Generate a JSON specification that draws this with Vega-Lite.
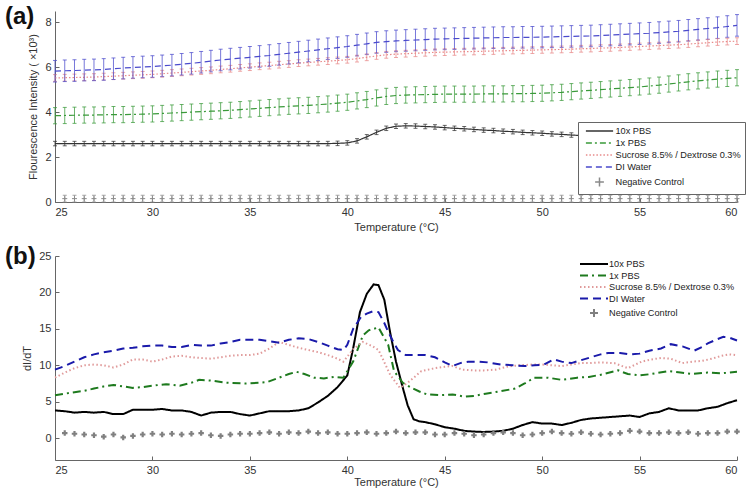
{
"$schema": "https://vega.github.io/schema/vega-lite/v6.json",
"background": "white",
"padding": {"left": 5, "top": 5, "right": 5, "bottom": 5},
"config": {
  "view": {"stroke": null},
  "font": "Liberation Sans",
  "axis": {"labelFont": "Liberation Sans", "titleFont": "Liberation Sans", "labelFontSize": 11, "titleFontSize": 11, "titleFontWeight": "normal", "labelColor": "#333", "titleColor": "#333", "domainColor": "#666", "tickColor": "#666", "grid": false, "tickSize": -4, "labelPadding": 8},
  "legend": {"labelFont": "Liberation Sans", "labelFontSize": 9.2, "labelColor": "#222"}
},
"datasets": {
"fa": [
{"s":"A","t":25,"v":2.6,"e":0.1},{"s":"A","t":25.5,"v":2.6,"e":0.1},{"s":"A","t":26,"v":2.6,"e":0.1},{"s":"A","t":26.5,"v":2.6,"e":0.1},{"s":"A","t":27,"v":2.6,"e":0.1},{"s":"A","t":27.5,"v":2.6,"e":0.1},{"s":"A","t":28,"v":2.6,"e":0.1},{"s":"A","t":28.5,"v":2.6,"e":0.1},{"s":"A","t":29,"v":2.6,"e":0.1},{"s":"A","t":29.5,"v":2.6,"e":0.1},{"s":"A","t":30,"v":2.6,"e":0.1},{"s":"A","t":30.5,"v":2.6,"e":0.1},{"s":"A","t":31,"v":2.6,"e":0.1},{"s":"A","t":31.5,"v":2.6,"e":0.1},{"s":"A","t":32,"v":2.6,"e":0.1},{"s":"A","t":32.5,"v":2.6,"e":0.1},{"s":"A","t":33,"v":2.6,"e":0.1},{"s":"A","t":33.5,"v":2.6,"e":0.1},{"s":"A","t":34,"v":2.6,"e":0.1},{"s":"A","t":34.5,"v":2.6,"e":0.1},{"s":"A","t":35,"v":2.6,"e":0.1},{"s":"A","t":35.5,"v":2.6,"e":0.1},{"s":"A","t":36,"v":2.6,"e":0.1},{"s":"A","t":36.5,"v":2.6,"e":0.1},{"s":"A","t":37,"v":2.6,"e":0.1},{"s":"A","t":37.5,"v":2.6,"e":0.1},{"s":"A","t":38,"v":2.6,"e":0.1},{"s":"A","t":38.5,"v":2.6,"e":0.1},{"s":"A","t":39,"v":2.6,"e":0.1},{"s":"A","t":39.5,"v":2.61,"e":0.1},{"s":"A","t":40,"v":2.63,"e":0.1},{"s":"A","t":40.5,"v":2.72,"e":0.1},{"s":"A","t":41,"v":2.9,"e":0.1},{"s":"A","t":41.5,"v":3.1,"e":0.1},{"s":"A","t":42,"v":3.28,"e":0.1},{"s":"A","t":42.5,"v":3.37,"e":0.1},{"s":"A","t":43,"v":3.39,"e":0.1},{"s":"A","t":43.5,"v":3.38,"e":0.1},{"s":"A","t":44,"v":3.36,"e":0.1},{"s":"A","t":44.5,"v":3.34,"e":0.1},{"s":"A","t":45,"v":3.31,"e":0.1},{"s":"A","t":45.5,"v":3.28,"e":0.1},{"s":"A","t":46,"v":3.26,"e":0.1},{"s":"A","t":46.5,"v":3.23,"e":0.1},{"s":"A","t":47,"v":3.2,"e":0.1},{"s":"A","t":47.5,"v":3.18,"e":0.1},{"s":"A","t":48,"v":3.15,"e":0.1},{"s":"A","t":48.5,"v":3.13,"e":0.1},{"s":"A","t":49,"v":3.1,"e":0.1},{"s":"A","t":49.5,"v":3.08,"e":0.1},{"s":"A","t":50,"v":3.06,"e":0.1},{"s":"A","t":50.5,"v":3.03,"e":0.1},{"s":"A","t":51,"v":3.01,"e":0.1},{"s":"A","t":51.5,"v":2.98,"e":0.1},{"s":"A","t":52,"v":2.96,"e":0.1},{"s":"A","t":52.5,"v":2.94,"e":0.1},{"s":"A","t":53,"v":2.92,"e":0.1},{"s":"A","t":53.5,"v":2.91,"e":0.1},{"s":"A","t":54,"v":2.9,"e":0.1},{"s":"A","t":54.5,"v":2.89,"e":0.1},{"s":"A","t":55,"v":2.88,"e":0.1},{"s":"A","t":55.5,"v":2.87,"e":0.1},{"s":"A","t":56,"v":2.86,"e":0.1},{"s":"A","t":56.5,"v":2.85,"e":0.1},{"s":"A","t":57,"v":2.85,"e":0.1},{"s":"A","t":57.5,"v":2.84,"e":0.1},{"s":"A","t":58,"v":2.83,"e":0.1},{"s":"A","t":58.5,"v":2.83,"e":0.1},{"s":"A","t":59,"v":2.82,"e":0.1},{"s":"A","t":59.5,"v":2.82,"e":0.1},{"s":"A","t":60,"v":2.81,"e":0.1},
{"s":"B","t":25,"v":3.84,"e":0.36},{"s":"B","t":25.5,"v":3.85,"e":0.36},{"s":"B","t":26,"v":3.86,"e":0.36},{"s":"B","t":26.5,"v":3.87,"e":0.36},{"s":"B","t":27,"v":3.87,"e":0.36},{"s":"B","t":27.5,"v":3.88,"e":0.36},{"s":"B","t":28,"v":3.89,"e":0.36},{"s":"B","t":28.5,"v":3.89,"e":0.36},{"s":"B","t":29,"v":3.9,"e":0.36},{"s":"B","t":29.5,"v":3.91,"e":0.36},{"s":"B","t":30,"v":3.92,"e":0.36},{"s":"B","t":30.5,"v":3.94,"e":0.36},{"s":"B","t":31,"v":3.96,"e":0.36},{"s":"B","t":31.5,"v":3.98,"e":0.36},{"s":"B","t":32,"v":4.0,"e":0.36},{"s":"B","t":32.5,"v":4.02,"e":0.36},{"s":"B","t":33,"v":4.04,"e":0.36},{"s":"B","t":33.5,"v":4.06,"e":0.36},{"s":"B","t":34,"v":4.08,"e":0.36},{"s":"B","t":34.5,"v":4.11,"e":0.36},{"s":"B","t":35,"v":4.14,"e":0.36},{"s":"B","t":35.5,"v":4.17,"e":0.36},{"s":"B","t":36,"v":4.2,"e":0.36},{"s":"B","t":36.5,"v":4.23,"e":0.36},{"s":"B","t":37,"v":4.26,"e":0.36},{"s":"B","t":37.5,"v":4.28,"e":0.36},{"s":"B","t":38,"v":4.3,"e":0.36},{"s":"B","t":38.5,"v":4.33,"e":0.36},{"s":"B","t":39,"v":4.36,"e":0.36},{"s":"B","t":39.5,"v":4.4,"e":0.36},{"s":"B","t":40,"v":4.44,"e":0.36},{"s":"B","t":40.5,"v":4.5,"e":0.36},{"s":"B","t":41,"v":4.56,"e":0.36},{"s":"B","t":41.5,"v":4.63,"e":0.36},{"s":"B","t":42,"v":4.7,"e":0.36},{"s":"B","t":42.5,"v":4.74,"e":0.36},{"s":"B","t":43,"v":4.76,"e":0.36},{"s":"B","t":43.5,"v":4.77,"e":0.36},{"s":"B","t":44,"v":4.78,"e":0.36},{"s":"B","t":44.5,"v":4.79,"e":0.36},{"s":"B","t":45,"v":4.8,"e":0.36},{"s":"B","t":45.5,"v":4.8,"e":0.36},{"s":"B","t":46,"v":4.8,"e":0.36},{"s":"B","t":46.5,"v":4.8,"e":0.36},{"s":"B","t":47,"v":4.81,"e":0.36},{"s":"B","t":47.5,"v":4.81,"e":0.36},{"s":"B","t":48,"v":4.81,"e":0.36},{"s":"B","t":48.5,"v":4.82,"e":0.36},{"s":"B","t":49,"v":4.82,"e":0.36},{"s":"B","t":49.5,"v":4.83,"e":0.36},{"s":"B","t":50,"v":4.84,"e":0.36},{"s":"B","t":50.5,"v":4.86,"e":0.36},{"s":"B","t":51,"v":4.88,"e":0.36},{"s":"B","t":51.5,"v":4.91,"e":0.36},{"s":"B","t":52,"v":4.94,"e":0.36},{"s":"B","t":52.5,"v":4.97,"e":0.36},{"s":"B","t":53,"v":5.0,"e":0.36},{"s":"B","t":53.5,"v":5.03,"e":0.36},{"s":"B","t":54,"v":5.06,"e":0.36},{"s":"B","t":54.5,"v":5.09,"e":0.36},{"s":"B","t":55,"v":5.12,"e":0.36},{"s":"B","t":55.5,"v":5.16,"e":0.36},{"s":"B","t":56,"v":5.2,"e":0.36},{"s":"B","t":56.5,"v":5.25,"e":0.36},{"s":"B","t":57,"v":5.3,"e":0.36},{"s":"B","t":57.5,"v":5.35,"e":0.36},{"s":"B","t":58,"v":5.39,"e":0.36},{"s":"B","t":58.5,"v":5.43,"e":0.36},{"s":"B","t":59,"v":5.47,"e":0.36},{"s":"B","t":59.5,"v":5.5,"e":0.36},{"s":"B","t":60,"v":5.53,"e":0.36},
{"s":"C","t":25,"v":5.52,"e":0.15},{"s":"C","t":25.5,"v":5.53,"e":0.15},{"s":"C","t":26,"v":5.54,"e":0.15},{"s":"C","t":26.5,"v":5.55,"e":0.15},{"s":"C","t":27,"v":5.56,"e":0.15},{"s":"C","t":27.5,"v":5.58,"e":0.15},{"s":"C","t":28,"v":5.6,"e":0.15},{"s":"C","t":28.5,"v":5.62,"e":0.15},{"s":"C","t":29,"v":5.64,"e":0.15},{"s":"C","t":29.5,"v":5.66,"e":0.15},{"s":"C","t":30,"v":5.68,"e":0.15},{"s":"C","t":30.5,"v":5.71,"e":0.15},{"s":"C","t":31,"v":5.74,"e":0.15},{"s":"C","t":31.5,"v":5.77,"e":0.15},{"s":"C","t":32,"v":5.8,"e":0.15},{"s":"C","t":32.5,"v":5.83,"e":0.15},{"s":"C","t":33,"v":5.86,"e":0.15},{"s":"C","t":33.5,"v":5.9,"e":0.15},{"s":"C","t":34,"v":5.93,"e":0.15},{"s":"C","t":34.5,"v":5.97,"e":0.15},{"s":"C","t":35,"v":6.0,"e":0.15},{"s":"C","t":35.5,"v":6.04,"e":0.15},{"s":"C","t":36,"v":6.07,"e":0.15},{"s":"C","t":36.5,"v":6.11,"e":0.15},{"s":"C","t":37,"v":6.14,"e":0.15},{"s":"C","t":37.5,"v":6.18,"e":0.15},{"s":"C","t":38,"v":6.21,"e":0.15},{"s":"C","t":38.5,"v":6.24,"e":0.15},{"s":"C","t":39,"v":6.27,"e":0.15},{"s":"C","t":39.5,"v":6.3,"e":0.15},{"s":"C","t":40,"v":6.33,"e":0.15},{"s":"C","t":40.5,"v":6.38,"e":0.15},{"s":"C","t":41,"v":6.44,"e":0.15},{"s":"C","t":41.5,"v":6.5,"e":0.15},{"s":"C","t":42,"v":6.55,"e":0.15},{"s":"C","t":42.5,"v":6.58,"e":0.15},{"s":"C","t":43,"v":6.6,"e":0.15},{"s":"C","t":43.5,"v":6.62,"e":0.15},{"s":"C","t":44,"v":6.64,"e":0.15},{"s":"C","t":44.5,"v":6.66,"e":0.15},{"s":"C","t":45,"v":6.67,"e":0.15},{"s":"C","t":45.5,"v":6.68,"e":0.15},{"s":"C","t":46,"v":6.69,"e":0.15},{"s":"C","t":46.5,"v":6.7,"e":0.15},{"s":"C","t":47,"v":6.71,"e":0.15},{"s":"C","t":47.5,"v":6.72,"e":0.15},{"s":"C","t":48,"v":6.73,"e":0.15},{"s":"C","t":48.5,"v":6.74,"e":0.15},{"s":"C","t":49,"v":6.75,"e":0.15},{"s":"C","t":49.5,"v":6.76,"e":0.15},{"s":"C","t":50,"v":6.77,"e":0.15},{"s":"C","t":50.5,"v":6.78,"e":0.15},{"s":"C","t":51,"v":6.79,"e":0.15},{"s":"C","t":51.5,"v":6.8,"e":0.15},{"s":"C","t":52,"v":6.82,"e":0.15},{"s":"C","t":52.5,"v":6.83,"e":0.15},{"s":"C","t":53,"v":6.85,"e":0.15},{"s":"C","t":53.5,"v":6.86,"e":0.15},{"s":"C","t":54,"v":6.88,"e":0.15},{"s":"C","t":54.5,"v":6.9,"e":0.15},{"s":"C","t":55,"v":6.92,"e":0.15},{"s":"C","t":55.5,"v":6.94,"e":0.15},{"s":"C","t":56,"v":6.96,"e":0.15},{"s":"C","t":56.5,"v":6.98,"e":0.15},{"s":"C","t":57,"v":7.0,"e":0.15},{"s":"C","t":57.5,"v":7.03,"e":0.15},{"s":"C","t":58,"v":7.06,"e":0.15},{"s":"C","t":58.5,"v":7.09,"e":0.15},{"s":"C","t":59,"v":7.12,"e":0.15},{"s":"C","t":59.5,"v":7.14,"e":0.15},{"s":"C","t":60,"v":7.16,"e":0.15},
{"s":"D","t":25,"v":5.82,"e":0.48},{"s":"D","t":25.5,"v":5.84,"e":0.48},{"s":"D","t":26,"v":5.85,"e":0.48},{"s":"D","t":26.5,"v":5.87,"e":0.48},{"s":"D","t":27,"v":5.88,"e":0.48},{"s":"D","t":27.5,"v":5.9,"e":0.48},{"s":"D","t":28,"v":5.93,"e":0.48},{"s":"D","t":28.5,"v":5.96,"e":0.48},{"s":"D","t":29,"v":5.99,"e":0.48},{"s":"D","t":29.5,"v":6.01,"e":0.48},{"s":"D","t":30,"v":6.03,"e":0.48},{"s":"D","t":30.5,"v":6.06,"e":0.48},{"s":"D","t":31,"v":6.09,"e":0.48},{"s":"D","t":31.5,"v":6.13,"e":0.48},{"s":"D","t":32,"v":6.17,"e":0.48},{"s":"D","t":32.5,"v":6.22,"e":0.48},{"s":"D","t":33,"v":6.27,"e":0.48},{"s":"D","t":33.5,"v":6.32,"e":0.48},{"s":"D","t":34,"v":6.36,"e":0.48},{"s":"D","t":34.5,"v":6.4,"e":0.48},{"s":"D","t":35,"v":6.44,"e":0.48},{"s":"D","t":35.5,"v":6.48,"e":0.48},{"s":"D","t":36,"v":6.52,"e":0.48},{"s":"D","t":36.5,"v":6.57,"e":0.48},{"s":"D","t":37,"v":6.62,"e":0.48},{"s":"D","t":37.5,"v":6.67,"e":0.48},{"s":"D","t":38,"v":6.72,"e":0.48},{"s":"D","t":38.5,"v":6.77,"e":0.48},{"s":"D","t":39,"v":6.82,"e":0.48},{"s":"D","t":39.5,"v":6.87,"e":0.48},{"s":"D","t":40,"v":6.92,"e":0.48},{"s":"D","t":40.5,"v":6.98,"e":0.48},{"s":"D","t":41,"v":7.04,"e":0.48},{"s":"D","t":41.5,"v":7.1,"e":0.48},{"s":"D","t":42,"v":7.14,"e":0.48},{"s":"D","t":42.5,"v":7.17,"e":0.48},{"s":"D","t":43,"v":7.19,"e":0.48},{"s":"D","t":43.5,"v":7.21,"e":0.48},{"s":"D","t":44,"v":7.23,"e":0.48},{"s":"D","t":44.5,"v":7.25,"e":0.48},{"s":"D","t":45,"v":7.26,"e":0.48},{"s":"D","t":45.5,"v":7.27,"e":0.48},{"s":"D","t":46,"v":7.28,"e":0.48},{"s":"D","t":46.5,"v":7.29,"e":0.48},{"s":"D","t":47,"v":7.3,"e":0.48},{"s":"D","t":47.5,"v":7.31,"e":0.48},{"s":"D","t":48,"v":7.32,"e":0.48},{"s":"D","t":48.5,"v":7.32,"e":0.48},{"s":"D","t":49,"v":7.33,"e":0.48},{"s":"D","t":49.5,"v":7.33,"e":0.48},{"s":"D","t":50,"v":7.34,"e":0.48},{"s":"D","t":50.5,"v":7.35,"e":0.48},{"s":"D","t":51,"v":7.36,"e":0.48},{"s":"D","t":51.5,"v":7.37,"e":0.48},{"s":"D","t":52,"v":7.38,"e":0.48},{"s":"D","t":52.5,"v":7.39,"e":0.48},{"s":"D","t":53,"v":7.41,"e":0.48},{"s":"D","t":53.5,"v":7.43,"e":0.48},{"s":"D","t":54,"v":7.45,"e":0.48},{"s":"D","t":54.5,"v":7.47,"e":0.48},{"s":"D","t":55,"v":7.49,"e":0.48},{"s":"D","t":55.5,"v":7.51,"e":0.48},{"s":"D","t":56,"v":7.54,"e":0.48},{"s":"D","t":56.5,"v":7.57,"e":0.48},{"s":"D","t":57,"v":7.6,"e":0.48},{"s":"D","t":57.5,"v":7.64,"e":0.48},{"s":"D","t":58,"v":7.68,"e":0.48},{"s":"D","t":58.5,"v":7.72,"e":0.48},{"s":"D","t":59,"v":7.76,"e":0.48},{"s":"D","t":59.5,"v":7.81,"e":0.48},{"s":"D","t":60,"v":7.86,"e":0.48},
{"s":"E","t":25.5,"v":0.15,"e":0.15},{"s":"E","t":26,"v":0.15,"e":0.15},{"s":"E","t":26.5,"v":0.15,"e":0.15},{"s":"E","t":27,"v":0.15,"e":0.15},{"s":"E","t":27.5,"v":0.15,"e":0.15},{"s":"E","t":28,"v":0.15,"e":0.15},{"s":"E","t":28.5,"v":0.15,"e":0.15},{"s":"E","t":29,"v":0.15,"e":0.15},{"s":"E","t":29.5,"v":0.15,"e":0.15},{"s":"E","t":30,"v":0.15,"e":0.15},{"s":"E","t":30.5,"v":0.15,"e":0.15},{"s":"E","t":31,"v":0.15,"e":0.15},{"s":"E","t":31.5,"v":0.15,"e":0.15},{"s":"E","t":32,"v":0.15,"e":0.15},{"s":"E","t":32.5,"v":0.15,"e":0.15},{"s":"E","t":33,"v":0.15,"e":0.15},{"s":"E","t":33.5,"v":0.15,"e":0.15},{"s":"E","t":34,"v":0.15,"e":0.15},{"s":"E","t":34.5,"v":0.15,"e":0.15},{"s":"E","t":35,"v":0.15,"e":0.15},{"s":"E","t":35.5,"v":0.15,"e":0.15},{"s":"E","t":36,"v":0.15,"e":0.15},{"s":"E","t":36.5,"v":0.15,"e":0.15},{"s":"E","t":37,"v":0.15,"e":0.15},{"s":"E","t":37.5,"v":0.15,"e":0.15},{"s":"E","t":38,"v":0.15,"e":0.15},{"s":"E","t":38.5,"v":0.15,"e":0.15},{"s":"E","t":39,"v":0.15,"e":0.15},{"s":"E","t":39.5,"v":0.15,"e":0.15},{"s":"E","t":40,"v":0.15,"e":0.15},{"s":"E","t":40.5,"v":0.15,"e":0.15},{"s":"E","t":41,"v":0.15,"e":0.15},{"s":"E","t":41.5,"v":0.15,"e":0.15},{"s":"E","t":42,"v":0.15,"e":0.15},{"s":"E","t":42.5,"v":0.15,"e":0.15},{"s":"E","t":43,"v":0.15,"e":0.15},{"s":"E","t":43.5,"v":0.15,"e":0.15},{"s":"E","t":44,"v":0.15,"e":0.15},{"s":"E","t":44.5,"v":0.15,"e":0.15},{"s":"E","t":45,"v":0.15,"e":0.15},{"s":"E","t":45.5,"v":0.15,"e":0.15},{"s":"E","t":46,"v":0.15,"e":0.15},{"s":"E","t":46.5,"v":0.15,"e":0.15},{"s":"E","t":47,"v":0.15,"e":0.15},{"s":"E","t":47.5,"v":0.15,"e":0.15},{"s":"E","t":48,"v":0.15,"e":0.15},{"s":"E","t":48.5,"v":0.15,"e":0.15},{"s":"E","t":49,"v":0.15,"e":0.15},{"s":"E","t":49.5,"v":0.15,"e":0.15},{"s":"E","t":50,"v":0.15,"e":0.15},{"s":"E","t":50.5,"v":0.15,"e":0.15},{"s":"E","t":51,"v":0.15,"e":0.15},{"s":"E","t":51.5,"v":0.15,"e":0.15},{"s":"E","t":52,"v":0.15,"e":0.15},{"s":"E","t":52.5,"v":0.15,"e":0.15},{"s":"E","t":53,"v":0.15,"e":0.15},{"s":"E","t":53.5,"v":0.15,"e":0.15},{"s":"E","t":54,"v":0.15,"e":0.15},{"s":"E","t":54.5,"v":0.15,"e":0.15},{"s":"E","t":55,"v":0.15,"e":0.15},{"s":"E","t":55.5,"v":0.15,"e":0.15},{"s":"E","t":56,"v":0.15,"e":0.15},{"s":"E","t":56.5,"v":0.15,"e":0.15},{"s":"E","t":57,"v":0.15,"e":0.15},{"s":"E","t":57.5,"v":0.15,"e":0.15},{"s":"E","t":58,"v":0.15,"e":0.15},{"s":"E","t":58.5,"v":0.15,"e":0.15},{"s":"E","t":59,"v":0.15,"e":0.15},{"s":"E","t":59.5,"v":0.15,"e":0.15},{"s":"E","t":60,"v":0.15,"e":0.15}
],
"fb": [
{"s":"A","t":25,"v":3.8},{"s":"A","t":25.5,"v":3.7},{"s":"A","t":26,"v":3.5},{"s":"A","t":26.5,"v":3.6},{"s":"A","t":27,"v":3.5},{"s":"A","t":27.5,"v":3.6},{"s":"A","t":28,"v":3.3},{"s":"A","t":28.5,"v":3.3},{"s":"A","t":29,"v":3.9},{"s":"A","t":29.5,"v":3.9},{"s":"A","t":30,"v":3.9},{"s":"A","t":30.5,"v":4.0},{"s":"A","t":31,"v":3.8},{"s":"A","t":31.5,"v":3.8},{"s":"A","t":32,"v":3.6},{"s":"A","t":32.5,"v":3.1},{"s":"A","t":33,"v":3.5},{"s":"A","t":33.5,"v":3.6},{"s":"A","t":34,"v":3.6},{"s":"A","t":34.5,"v":3.3},{"s":"A","t":35,"v":3.1},{"s":"A","t":35.5,"v":3.4},{"s":"A","t":36,"v":3.7},{"s":"A","t":36.5,"v":3.7},{"s":"A","t":37,"v":3.7},{"s":"A","t":37.5,"v":3.8},{"s":"A","t":38,"v":4.1},{"s":"A","t":38.5,"v":4.9},{"s":"A","t":39,"v":5.8},{"s":"A","t":39.5,"v":7.0},{"s":"A","t":40,"v":8.6},{"s":"A","t":40.3,"v":12.3},{"s":"A","t":40.65,"v":17.3},{"s":"A","t":41,"v":19.8},{"s":"A","t":41.35,"v":21.1},{"s":"A","t":41.6,"v":21.0},{"s":"A","t":41.9,"v":19.0},{"s":"A","t":42.2,"v":14.5},{"s":"A","t":42.5,"v":10.5},{"s":"A","t":42.85,"v":6.9},{"s":"A","t":43.1,"v":4.5},{"s":"A","t":43.4,"v":2.6},{"s":"A","t":43.7,"v":2.3},{"s":"A","t":44,"v":2.2},{"s":"A","t":44.5,"v":1.9},{"s":"A","t":45,"v":1.5},{"s":"A","t":45.5,"v":1.3},{"s":"A","t":46,"v":1.0},{"s":"A","t":46.5,"v":0.9},{"s":"A","t":47,"v":0.85},{"s":"A","t":47.5,"v":0.9},{"s":"A","t":48,"v":1.0},{"s":"A","t":48.5,"v":1.3},{"s":"A","t":49,"v":1.8},{"s":"A","t":49.5,"v":2.2},{"s":"A","t":50,"v":2.0},{"s":"A","t":50.5,"v":2.0},{"s":"A","t":51,"v":1.8},{"s":"A","t":51.5,"v":2.1},{"s":"A","t":52,"v":2.5},{"s":"A","t":52.5,"v":2.7},{"s":"A","t":53,"v":2.8},{"s":"A","t":53.5,"v":2.9},{"s":"A","t":54,"v":3.0},{"s":"A","t":54.5,"v":3.1},{"s":"A","t":55,"v":2.9},{"s":"A","t":55.5,"v":3.4},{"s":"A","t":56,"v":3.6},{"s":"A","t":56.5,"v":4.1},{"s":"A","t":57,"v":3.8},{"s":"A","t":57.5,"v":3.8},{"s":"A","t":58,"v":3.8},{"s":"A","t":58.5,"v":4.1},{"s":"A","t":59,"v":4.3},{"s":"A","t":59.5,"v":4.8},{"s":"A","t":60,"v":5.2},
{"s":"B","t":25,"v":5.9},{"s":"B","t":25.5,"v":6.1},{"s":"B","t":26,"v":6.3},{"s":"B","t":26.5,"v":6.5},{"s":"B","t":27,"v":6.8},{"s":"B","t":27.5,"v":7.1},{"s":"B","t":28,"v":7.3},{"s":"B","t":28.5,"v":7.1},{"s":"B","t":29,"v":6.9},{"s":"B","t":29.5,"v":7.0},{"s":"B","t":30,"v":7.2},{"s":"B","t":30.7,"v":7.4},{"s":"B","t":31.4,"v":7.2},{"s":"B","t":32,"v":7.6},{"s":"B","t":32.4,"v":8.0},{"s":"B","t":33,"v":7.9},{"s":"B","t":33.8,"v":7.6},{"s":"B","t":34.8,"v":7.5},{"s":"B","t":35.5,"v":7.6},{"s":"B","t":35.9,"v":7.7},{"s":"B","t":36.5,"v":8.3},{"s":"B","t":37,"v":8.8},{"s":"B","t":37.4,"v":9.1},{"s":"B","t":37.8,"v":8.8},{"s":"B","t":38.3,"v":8.3},{"s":"B","t":38.8,"v":8.2},{"s":"B","t":39.3,"v":8.4},{"s":"B","t":39.8,"v":8.3},{"s":"B","t":40.3,"v":10.5},{"s":"B","t":40.8,"v":14.1},{"s":"B","t":41.1,"v":14.8},{"s":"B","t":41.6,"v":15.2},{"s":"B","t":42.1,"v":12.8},{"s":"B","t":42.4,"v":9.2},{"s":"B","t":42.85,"v":7.6},{"s":"B","t":43.3,"v":6.9},{"s":"B","t":43.7,"v":6.4},{"s":"B","t":44.1,"v":6.0},{"s":"B","t":44.7,"v":5.9},{"s":"B","t":45.4,"v":6.0},{"s":"B","t":46,"v":5.7},{"s":"B","t":46.5,"v":5.8},{"s":"B","t":47.1,"v":6.1},{"s":"B","t":47.8,"v":6.4},{"s":"B","t":48.6,"v":6.8},{"s":"B","t":49.1,"v":7.5},{"s":"B","t":49.6,"v":8.3},{"s":"B","t":50.3,"v":8.3},{"s":"B","t":51,"v":8.0},{"s":"B","t":51.8,"v":8.3},{"s":"B","t":52.4,"v":8.4},{"s":"B","t":53,"v":8.7},{"s":"B","t":53.9,"v":9.3},{"s":"B","t":54.4,"v":8.8},{"s":"B","t":55,"v":8.6},{"s":"B","t":55.6,"v":8.8},{"s":"B","t":56.5,"v":9.2},{"s":"B","t":57.1,"v":9.0},{"s":"B","t":57.7,"v":8.8},{"s":"B","t":58.5,"v":9.0},{"s":"B","t":59.2,"v":8.9},{"s":"B","t":60,"v":9.1},
{"s":"C","t":25,"v":8.3},{"s":"C","t":25.5,"v":9.0},{"s":"C","t":26,"v":9.6},{"s":"C","t":26.5,"v":10.0},{"s":"C","t":27,"v":10.1},{"s":"C","t":27.5,"v":10.0},{"s":"C","t":28,"v":9.7},{"s":"C","t":28.5,"v":10.1},{"s":"C","t":29,"v":10.8},{"s":"C","t":29.5,"v":10.8},{"s":"C","t":30,"v":10.5},{"s":"C","t":30.5,"v":10.8},{"s":"C","t":31,"v":11.2},{"s":"C","t":31.5,"v":11.3},{"s":"C","t":32,"v":11.1},{"s":"C","t":32.5,"v":11.0},{"s":"C","t":33,"v":10.9},{"s":"C","t":33.5,"v":11.1},{"s":"C","t":34,"v":11.3},{"s":"C","t":34.5,"v":11.4},{"s":"C","t":35,"v":11.4},{"s":"C","t":35.5,"v":11.6},{"s":"C","t":36,"v":12.3},{"s":"C","t":36.5,"v":13.2},{"s":"C","t":37,"v":12.8},{"s":"C","t":37.5,"v":12.4},{"s":"C","t":38,"v":12.1},{"s":"C","t":38.5,"v":11.8},{"s":"C","t":39,"v":11.4},{"s":"C","t":39.5,"v":10.9},{"s":"C","t":39.8,"v":10.5},{"s":"C","t":40.3,"v":12.2},{"s":"C","t":40.8,"v":13.2},{"s":"C","t":41.3,"v":12.6},{"s":"C","t":41.6,"v":12.1},{"s":"C","t":41.8,"v":11.0},{"s":"C","t":42.2,"v":8.7},{"s":"C","t":42.7,"v":6.9},{"s":"C","t":43.1,"v":7.6},{"s":"C","t":43.5,"v":8.5},{"s":"C","t":43.8,"v":9.2},{"s":"C","t":44.5,"v":9.6},{"s":"C","t":45,"v":9.8},{"s":"C","t":45.4,"v":9.9},{"s":"C","t":45.9,"v":9.4},{"s":"C","t":46.5,"v":9.3},{"s":"C","t":47,"v":9.3},{"s":"C","t":47.6,"v":9.4},{"s":"C","t":48.2,"v":9.8},{"s":"C","t":48.8,"v":10.0},{"s":"C","t":49.5,"v":10.1},{"s":"C","t":50,"v":10.1},{"s":"C","t":50.5,"v":10.0},{"s":"C","t":51,"v":9.9},{"s":"C","t":51.5,"v":10.1},{"s":"C","t":52,"v":10.3},{"s":"C","t":52.4,"v":10.3},{"s":"C","t":53,"v":10.4},{"s":"C","t":53.7,"v":10.3},{"s":"C","t":54.4,"v":9.6},{"s":"C","t":55.1,"v":10.5},{"s":"C","t":55.6,"v":10.8},{"s":"C","t":56.1,"v":11.0},{"s":"C","t":56.6,"v":10.9},{"s":"C","t":57.2,"v":10.3},{"s":"C","t":57.7,"v":10.5},{"s":"C","t":58.2,"v":10.6},{"s":"C","t":58.7,"v":10.9},{"s":"C","t":59.2,"v":11.3},{"s":"C","t":59.6,"v":11.5},{"s":"C","t":60,"v":11.4},
{"s":"D","t":25,"v":9.4},{"s":"D","t":25.5,"v":9.9},{"s":"D","t":26,"v":10.5},{"s":"D","t":26.5,"v":11.1},{"s":"D","t":27,"v":11.5},{"s":"D","t":27.5,"v":11.8},{"s":"D","t":28,"v":12.0},{"s":"D","t":28.5,"v":12.3},{"s":"D","t":29,"v":12.4},{"s":"D","t":29.5,"v":12.6},{"s":"D","t":30,"v":12.7},{"s":"D","t":30.5,"v":12.7},{"s":"D","t":31,"v":12.5},{"s":"D","t":31.5,"v":12.5},{"s":"D","t":32,"v":12.8},{"s":"D","t":32.5,"v":12.7},{"s":"D","t":33,"v":12.7},{"s":"D","t":33.5,"v":13.0},{"s":"D","t":34,"v":13.2},{"s":"D","t":34.5,"v":13.5},{"s":"D","t":35,"v":13.5},{"s":"D","t":35.5,"v":13.5},{"s":"D","t":36,"v":13.3},{"s":"D","t":36.5,"v":13.1},{"s":"D","t":37,"v":13.5},{"s":"D","t":37.5,"v":13.7},{"s":"D","t":38,"v":13.6},{"s":"D","t":38.5,"v":13.2},{"s":"D","t":39,"v":12.7},{"s":"D","t":39.5,"v":12.2},{"s":"D","t":39.8,"v":12.1},{"s":"D","t":40,"v":12.8},{"s":"D","t":40.3,"v":15.0},{"s":"D","t":40.7,"v":16.6},{"s":"D","t":41,"v":17.1},{"s":"D","t":41.3,"v":17.4},{"s":"D","t":41.6,"v":17.3},{"s":"D","t":41.9,"v":15.8},{"s":"D","t":42.1,"v":14.6},{"s":"D","t":42.4,"v":13.0},{"s":"D","t":42.6,"v":12.1},{"s":"D","t":43,"v":11.4},{"s":"D","t":43.5,"v":11.4},{"s":"D","t":44,"v":11.4},{"s":"D","t":44.5,"v":11.1},{"s":"D","t":45,"v":10.4},{"s":"D","t":45.4,"v":9.9},{"s":"D","t":45.8,"v":10.3},{"s":"D","t":46.2,"v":10.5},{"s":"D","t":46.7,"v":10.5},{"s":"D","t":47.2,"v":10.4},{"s":"D","t":47.9,"v":10.1},{"s":"D","t":48.5,"v":10.0},{"s":"D","t":49.1,"v":9.9},{"s":"D","t":49.6,"v":10.0},{"s":"D","t":50.1,"v":10.1},{"s":"D","t":50.6,"v":10.8},{"s":"D","t":51,"v":10.5},{"s":"D","t":51.5,"v":10.3},{"s":"D","t":52,"v":10.7},{"s":"D","t":52.5,"v":11.1},{"s":"D","t":53,"v":11.5},{"s":"D","t":53.4,"v":11.7},{"s":"D","t":54,"v":11.7},{"s":"D","t":54.5,"v":11.5},{"s":"D","t":55,"v":11.6},{"s":"D","t":55.5,"v":12.0},{"s":"D","t":56.1,"v":12.3},{"s":"D","t":56.6,"v":12.9},{"s":"D","t":57.2,"v":12.6},{"s":"D","t":57.8,"v":12.0},{"s":"D","t":58.2,"v":12.5},{"s":"D","t":58.5,"v":13.0},{"s":"D","t":59,"v":13.6},{"s":"D","t":59.3,"v":13.9},{"s":"D","t":59.6,"v":13.8},{"s":"D","t":60,"v":13.4},
{"s":"E","t":25.5,"v":0.7},{"s":"E","t":26,"v":0.6},{"s":"E","t":26.5,"v":0.5},{"s":"E","t":27,"v":0.4},{"s":"E","t":27.5,"v":0.2},{"s":"E","t":28,"v":0.5},{"s":"E","t":28.5,"v":0.1},{"s":"E","t":29,"v":0.3},{"s":"E","t":29.5,"v":0.5},{"s":"E","t":30,"v":0.6},{"s":"E","t":30.5,"v":0.5},{"s":"E","t":31,"v":0.6},{"s":"E","t":31.5,"v":0.5},{"s":"E","t":32,"v":0.6},{"s":"E","t":32.5,"v":0.7},{"s":"E","t":33,"v":0.4},{"s":"E","t":33.5,"v":0.3},{"s":"E","t":34,"v":0.5},{"s":"E","t":34.5,"v":0.6},{"s":"E","t":35,"v":0.6},{"s":"E","t":35.5,"v":0.7},{"s":"E","t":36,"v":0.8},{"s":"E","t":36.5,"v":0.6},{"s":"E","t":37,"v":0.8},{"s":"E","t":37.5,"v":0.7},{"s":"E","t":38,"v":0.9},{"s":"E","t":38.5,"v":0.7},{"s":"E","t":39,"v":0.8},{"s":"E","t":39.5,"v":0.6},{"s":"E","t":40,"v":0.6},{"s":"E","t":40.5,"v":0.7},{"s":"E","t":41,"v":0.8},{"s":"E","t":41.5,"v":0.6},{"s":"E","t":42,"v":0.7},{"s":"E","t":42.5,"v":0.9},{"s":"E","t":43,"v":0.7},{"s":"E","t":43.5,"v":0.8},{"s":"E","t":44,"v":0.8},{"s":"E","t":44.5,"v":0.5},{"s":"E","t":45,"v":0.5},{"s":"E","t":45.5,"v":0.7},{"s":"E","t":46,"v":0.6},{"s":"E","t":46.5,"v":0.4},{"s":"E","t":47,"v":0.5},{"s":"E","t":47.5,"v":0.7},{"s":"E","t":48,"v":0.8},{"s":"E","t":48.5,"v":0.7},{"s":"E","t":49,"v":0.4},{"s":"E","t":49.5,"v":0.5},{"s":"E","t":50,"v":0.7},{"s":"E","t":50.5,"v":0.9},{"s":"E","t":51,"v":0.7},{"s":"E","t":51.5,"v":0.6},{"s":"E","t":52,"v":0.8},{"s":"E","t":52.5,"v":0.6},{"s":"E","t":53,"v":0.5},{"s":"E","t":53.5,"v":0.6},{"s":"E","t":54,"v":0.7},{"s":"E","t":54.5,"v":1.0},{"s":"E","t":55,"v":0.9},{"s":"E","t":55.5,"v":0.7},{"s":"E","t":56,"v":0.7},{"s":"E","t":56.5,"v":0.8},{"s":"E","t":57,"v":0.7},{"s":"E","t":57.5,"v":0.8},{"s":"E","t":58,"v":0.6},{"s":"E","t":58.5,"v":0.7},{"s":"E","t":59,"v":0.7},{"s":"E","t":59.5,"v":0.9},{"s":"E","t":60,"v":0.9}
],
"labA": [{"lab": "(a)"}],
"labB": [{"lab": "(b)"}]
},
"spacing": 12,
"resolve": {"scale": {"color": "independent", "strokeDash": "independent"}},
"vconcat": [
{
  "width": 682, "height": 191,
  "layer": [
    {"data": {"name": "fa"},
     "transform": [{"filter": "datum.s !== 'E'"}],
     "mark": {"type": "line", "strokeWidth": 1.2},
     "encoding": {
       "x": {"field": "t", "type": "quantitative", "title": "Temperature (°C)", "scale": {"domain": [25, 60], "nice": false, "zero": false}, "axis": {"values": [25, 30, 35, 40, 45, 50, 55, 60], "titlePadding": 4}},
       "y": {"field": "v", "type": "quantitative", "title": "Flourescence Intensity ( ×10³)", "scale": {"domain": [0, 8.5], "nice": false}, "axis": {"values": [0, 2, 4, 6, 8], "titlePadding": 6}},
       "color": {"field": "s", "type": "nominal", "scale": {"domain": ["A", "B", "C", "D", "E"], "range": ["#333333", "#3a9a3a", "#e88a8a", "#4a4acc", "#8a8a8a"]},
         "legend": {"orient": "none", "legendX": 523, "legendY": 111, "title": null, "symbolType": "stroke", "symbolSize": 64, "symbolStrokeWidth": 1.5, "symbolOffset": 12.5, "labelOffset": 11, "strokeColor": "#666", "fillColor": "white", "padding": 4, "rowPadding": 1,
           "labelExpr": "datum.value=='A'?'10x PBS':datum.value=='B'?'1x PBS':datum.value=='C'?'Sucrose 8.5% / Dextrose 0.3%':datum.value=='D'?'DI Water':'Negative Control'",
           "encode": {"symbols": {"update": {"shape": {"signal": "datum.value === 'E' ? 'M-1.1,0H1.1M0,-1.1V1.1' : 'M-3.4,0H3.4'"}, "fill": {"value": "transparent"}}}}}},
       "strokeDash": {"field": "s", "type": "nominal", "scale": {"domain": ["A", "B", "C", "D", "E"], "range": [[1, 0], [6, 3, 2, 3], [1.5, 2], [6, 4], [1, 0]]}}
     }},
    {"data": {"name": "fa"},
     "mark": {"type": "errorbar", "ticks": {"size": 4, "thickness": 1}, "thickness": 1, "opacity": 0.75},
     "encoding": {
       "x": {"field": "t", "type": "quantitative", "title": "Temperature (°C)"},
       "y": {"field": "v", "type": "quantitative", "title": "Flourescence Intensity ( ×10³)"},
       "yError": {"field": "e"},
       "color": {"field": "s", "type": "nominal"}
     }},
    {"data": {"name": "fa"},
     "transform": [{"filter": "datum.s === 'E'"}],
     "mark": {"type": "point", "shape": "M-1,0H1M0,-1V1", "size": 25, "filled": false, "strokeWidth": 1, "opacity": 1},
     "encoding": {
       "x": {"field": "t", "type": "quantitative", "title": "Temperature (°C)"},
       "y": {"field": "v", "type": "quantitative", "title": "Flourescence Intensity ( ×10³)"},
       "color": {"field": "s", "type": "nominal"}
     }},
    {"data": {"name": "labA"},
     "mark": {"type": "text", "font": "Liberation Sans", "fontSize": 24, "fontWeight": "bold", "fill": "#111", "align": "left", "baseline": "alphabetic", "dx": -50, "dy": 13},
     "encoding": {"x": {"datum": 25, "type": "quantitative"}, "y": {"datum": 8.5, "type": "quantitative"}, "text": {"field": "lab", "type": "nominal"}}}
  ]
},
{
  "width": 682, "height": 204,
  "layer": [
    {"data": {"name": "fb"},
     "transform": [{"filter": "datum.s !== 'E'"}],
     "mark": {"type": "line", "strokeWidth": 2},
     "encoding": {
       "x": {"field": "t", "type": "quantitative", "title": "Temperature (°C)", "scale": {"domain": [25, 60], "nice": false, "zero": false}, "axis": {"values": [25, 30, 35, 40, 45, 50, 55, 60], "titlePadding": 1}},
       "y": {"field": "v", "type": "quantitative", "title": "dI/dT", "scale": {"domain": [-3, 25], "nice": false, "zero": false}, "axis": {"values": [0, 5, 10, 15, 20, 25], "titlePadding": 6}},
       "color": {"field": "s", "type": "nominal", "scale": {"domain": ["A", "B", "C", "D", "E"], "range": ["#000000", "#1e7a1e", "#e09a9a", "#1a1aaa", "#808080"]},
         "legend": {"orient": "none", "legendX": 525, "legendY": 3, "title": null, "symbolType": "stroke", "symbolSize": 64, "symbolStrokeWidth": 2, "symbolOffset": 9, "labelOffset": 10, "padding": 0, "rowPadding": 0.5,
           "labelExpr": "datum.value=='A'?'10x PBS':datum.value=='B'?'1x PBS':datum.value=='C'?'Sucrose 8.5% / Dextrose 0.3%':datum.value=='D'?'DI Water':'Negative Control'",
           "encode": {"symbols": {"update": {"shape": {"signal": "datum.value === 'E' ? 'M-1,0H1M0,-1V1' : 'M-3.5,0H3.5'"}, "fill": {"value": "transparent"}}}}}},
       "strokeDash": {"field": "s", "type": "nominal", "scale": {"domain": ["A", "B", "C", "D", "E"], "range": [[1, 0], [8, 4, 2, 4], [1.5, 2.5], [8, 5], [1, 0]]}}
     }},
    {"data": {"name": "fb"},
     "transform": [{"filter": "datum.s === 'E'"}],
     "mark": {"type": "point", "shape": "cross", "size": 30, "filled": true, "opacity": 1},
     "encoding": {
       "x": {"field": "t", "type": "quantitative", "title": "Temperature (°C)"},
       "y": {"field": "v", "type": "quantitative", "title": "dI/dT"},
       "color": {"field": "s", "type": "nominal"}
     }},
    {"data": {"name": "labB"},
     "mark": {"type": "text", "font": "Liberation Sans", "fontSize": 24, "fontWeight": "bold", "fill": "#111", "align": "left", "baseline": "alphabetic", "dx": -50, "dy": 7.5},
     "encoding": {"x": {"datum": 25, "type": "quantitative"}, "y": {"datum": 25, "type": "quantitative"}, "text": {"field": "lab", "type": "nominal"}}}
  ]
}
]
}
